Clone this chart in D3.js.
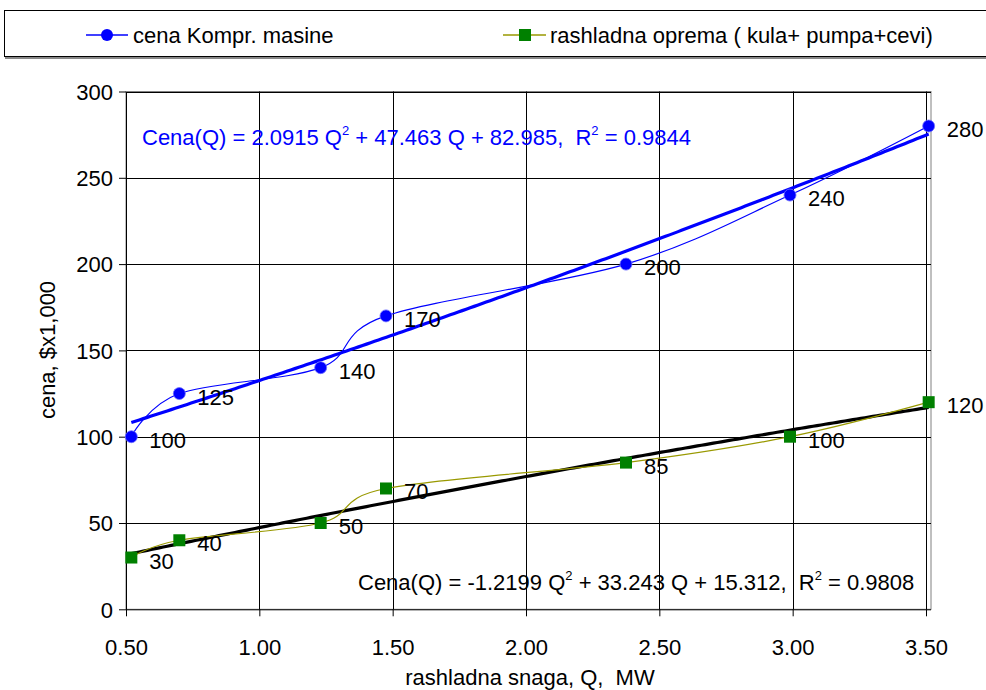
<!DOCTYPE html>
<html><head><meta charset="utf-8">
<script src="https://cdn.jsdelivr.net/npm/d3@7"></script>
<style>body{margin:0;background:#fff}svg{display:block}text{font-family:"Liberation Sans",Arial,sans-serif;white-space:pre}</style>
</head><body><svg id="c" width="986" height="690"></svg>
<script>
const Q = [0.52, 0.70, 1.23, 1.475, 2.375, 2.99, 3.51];
const cenaKompr = [100, 125, 140, 170, 200, 240, 280];
const rashladna = [30, 40, 50, 70, 85, 100, 120];
const xTicks = [0.5, 1.0, 1.5, 2.0, 2.5, 3.0, 3.5];
const yTicks = [0, 50, 100, 150, 200, 250, 300];
const fitKompr = [2.0915, 47.463, 82.985];
const fitRash = [-1.2199, 33.243, 15.312];
const seriesNames = ["cena Kompr. masine", "rashladna oprema ( kula+ pumpa+cevi)"];
const eqKompr = {pre:"Cena(Q) = 2.0915 Q", mid:" + 47.463 Q + 82.985,  R", post:" = 0.9844"};
const eqRash = {pre:"Cena(Q) = -1.2199 Q", mid:" + 33.243 Q + 15.312,  R", post:" = 0.9808"};

const FS = 22;
const svg = d3.select("#c");
const L = 126, R = 931, T = 91.5, B = 609.3;
const x = d3.scaleLinear().domain([0.5, 3.5]).range([126, 926]);
const y = d3.scaleLinear().domain([0, 300]).range([B, T]);

// legend
const lg = svg.append("g");
lg.append("line").attr("x1",5).attr("x2",1000).attr("y1",58).attr("y2",58).attr("stroke","#888").attr("stroke-width",2);
lg.append("rect").attr("x",4.5).attr("y",10.5).attr("width",1000).attr("height",46).attr("fill","#fff").attr("stroke","#000");
lg.append("line").attr("x1",86).attr("x2",128).attr("y1",35).attr("y2",35).attr("stroke","#0000ff").attr("stroke-width",1.5);
lg.append("circle").attr("cx",107).attr("cy",35).attr("r",6).attr("fill","#0000ff");
lg.append("text").attr("x",133).attr("y",43).attr("font-size",FS).text(seriesNames[0]);
lg.append("line").attr("x1",503).attr("x2",546).attr("y1",35).attr("y2",35).attr("stroke","#999900").attr("stroke-width",1.5);
lg.append("rect").attr("x",519).attr("y",29).attr("width",12).attr("height",12).attr("fill","#008000");
lg.append("text").attr("x",550).attr("y",43).attr("font-size",FS).text(seriesNames[1]);

// plot border
svg.append("rect").attr("x",L).attr("y",T).attr("width",R-L).attr("height",B-T).attr("fill","none").attr("stroke","#808080");

// grid
svg.append("g").selectAll("line").data(xTicks.slice(1)).join("line")
  .attr("x1",d=>Math.round(x(d))+0.5).attr("x2",d=>Math.round(x(d))+0.5).attr("y1",T).attr("y2",B).attr("stroke","#000");
svg.append("g").selectAll("line").data(yTicks.slice(1)).join("line")
  .attr("x1",L).attr("x2",R).attr("y1",d=>Math.round(y(d))+0.5).attr("y2",d=>Math.round(y(d))+0.5).attr("stroke","#000");

// axes
const xa = svg.append("g").attr("transform",`translate(0,${B})`)
  .call(d3.axisBottom(x).tickValues(xTicks).tickFormat(d3.format(".2f")).tickSize(7).tickSizeOuter(0).tickPadding(23));
const ya = svg.append("g").attr("transform",`translate(${L},0)`)
  .call(d3.axisLeft(y).tickValues(yTicks).tickSize(7).tickSizeOuter(0).tickPadding(6));
[xa, ya].forEach(a=>{a.selectAll("text").attr("font-size",FS).attr("fill","#000").attr("font-family","Liberation Sans, Arial, sans-serif");
  a.selectAll("line").attr("stroke","#000"); a.select(".domain").attr("stroke","#000");});
xa.select(".domain").attr("d",`M${L},0.5H${R}`);
ya.selectAll("text").attr("dy","0.35em");

// titles
svg.append("text").attr("x",530).attr("y",685).attr("text-anchor","middle").attr("font-size",FS).text("rashladna snaga, Q,  MW");
svg.append("text").attr("transform","translate(55,350) rotate(-90)").attr("text-anchor","middle").attr("font-size",FS).text("cena, $x1,000");

// trendlines
function poly(c){ return q => c[0]*q*q + c[1]*q + c[2]; }
const qs = d3.range(0, 201).map(i => Q[0] + (Q[Q.length-1]-Q[0])*i/200);
const line = d3.line().x(d=>x(d[0])).y(d=>y(d[1]));
const fK = poly(fitKompr), fR = poly(fitRash);
svg.append("path").attr("d", line(qs.map(q=>[q,fK(q)]))).attr("fill","none").attr("stroke","#0000ff").attr("stroke-width",3.2);
svg.append("path").attr("d", line(qs.map(q=>[q,fR(q)]))).attr("fill","none").attr("stroke","#000").attr("stroke-width",3.2);

// data lines
const sm = d3.line().x(d=>x(d[0])).y(d=>y(d[1])).curve(d3.curveCatmullRom.alpha(0));
const dK = Q.map((q,i)=>[q,cenaKompr[i]]), dR = Q.map((q,i)=>[q,rashladna[i]]);
svg.append("path").attr("d", sm(dK)).attr("fill","none").attr("stroke","#0000ff").attr("stroke-width",1.2);
svg.append("path").attr("d", sm(dR)).attr("fill","none").attr("stroke","#999900").attr("stroke-width",1.2);

// markers
svg.append("g").selectAll("circle").data(dK).join("circle")
  .attr("cx",d=>x(d[0])).attr("cy",d=>y(d[1])).attr("r",6).attr("fill","#0000ff").attr("stroke","#6f6fff").attr("stroke-width",0.8);
svg.append("g").selectAll("rect").data(dR).join("rect")
  .attr("x",d=>x(d[0])-6).attr("y",d=>y(d[1])-6).attr("width",12).attr("height",12).attr("fill","#008000");

// data labels
svg.append("g").selectAll("text").data(dK).join("text")
  .attr("x",d=>x(d[0])+18).attr("y",d=>y(d[1])+11).attr("font-size",FS).text(d=>d[1]);
svg.append("g").selectAll("text").data(dR).join("text")
  .attr("x",d=>x(d[0])+18).attr("y",d=>y(d[1])+11).attr("font-size",FS).text(d=>d[1]);

// equations
function eq(e, xx, yy, col){
  const t = svg.append("text").attr("x",xx).attr("y",yy).attr("font-size",FS).attr("fill",col);
  t.append("tspan").text(e.pre);
  t.append("tspan").attr("dy",-10).attr("font-size",13).text("2");
  t.append("tspan").attr("dy",10).text(e.mid);
  t.append("tspan").attr("dy",-10).attr("font-size",13).text("2");
  t.append("tspan").attr("dy",10).text(e.post);
}
eq(eqKompr, 142, 145, "#0000ff");
eq(eqRash, 358, 590, "#000");
</script></body></html>
